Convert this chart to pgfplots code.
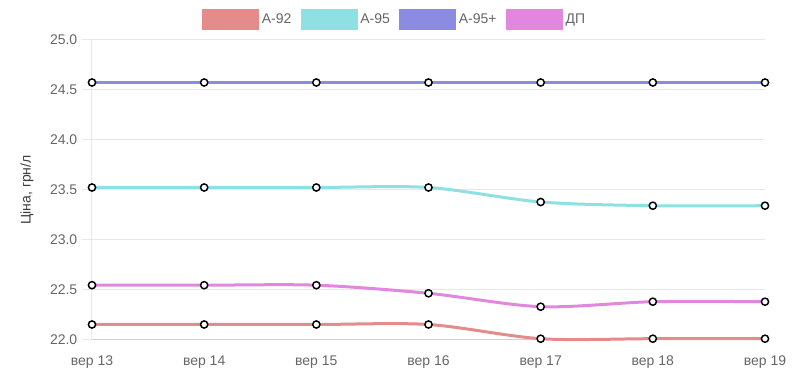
\documentclass[border=0pt]{standalone}
\usepackage{pgfplots}
\pgfplotsset{compat=1.18}
\usepackage{fontspec}
\setmainfont{Liberation Sans}
\definecolor{c92}{RGB}{228,139,139}
\definecolor{c95}{RGB}{143,224,227}
\definecolor{c95p}{RGB}{139,139,225}
\definecolor{cdp}{RGB}{225,136,222}
\definecolor{gridc}{RGB}{232,232,232}
\definecolor{axc}{RGB}{208,208,208}
\definecolor{tickc}{RGB}{102,102,102}
\definecolor{labc}{RGB}{60,60,60}
\begin{document}
\begin{tikzpicture}
\path[use as bounding box] (-69pt,-36pt) rectangle (534.75pt,255pt);
\begin{axis}[
  at={(0pt,0pt)}, anchor=south west,
  scale only axis, width=504.75pt, height=225pt,
  xmin=0, xmax=6, ymin=22, ymax=25,
  xtick={0,1,2,3,4,5,6},
  xticklabels={вер 13,вер 14,вер 15,вер 16,вер 17,вер 18,вер 19},
  ytick={22,22.5,23,23.5,24,24.5,25},
  axis x line*=bottom, axis y line*=left,
  x axis line style={draw=axc, line width=0.75pt, -},
  y axis line style={draw=gridc, line width=0.75pt, -},
  ymajorgrids, grid style={draw=gridc, line width=0.75pt},
  tick align=outside,
  xtick style={draw=none},
  ytick style={draw=gridc, line width=0.75pt},
  major tick length=7.5pt,
  tick label style={font=\fontsize{10.5}{12}\selectfont, text=tickc},
  xticklabel style={yshift=-1pt},
  yticklabel style={xshift=0pt},
  /pgf/number format/.cd, fixed, fixed zerofill, precision=1, assume math mode=true,
  /pgfplots/.cd,
  ylabel={Ціна, грн/л},
  every axis y label/.style={at={(axis description cs:-0.0966,0.5)}, rotate=90, anchor=center, font=\fontsize{10.5}{12}\selectfont, text=labc},
  clip=false,
  legend columns=4,
  legend style={at={(0.4502,1.0667)}, anchor=center, draw=none, fill=none,
    font=\fontsize{10.5}{12}\selectfont, text=tickc,
    /tikz/every even column/.append style={column sep=5pt}},
  legend image code/.code={\path[fill] (0pt,-6.75pt) rectangle (40.5pt,6.75pt);},
  every axis plot/.append style={line width=2.25pt, smooth, tension=0.5, mark=*, mark size=2.7pt,
    mark options={fill=white, draw=black, line width=1.1pt, solid}},
]
\addplot[color=c92] coordinates {(0,22.155) (1,22.155) (2,22.155) (3,22.155) (4,22.013) (5,22.013) (6,22.013)};
\addlegendentry{А-92}
\addplot[color=c95] coordinates {(0,23.525) (1,23.525) (2,23.525) (3,23.525) (4,23.38) (5,23.343) (6,23.343)};
\addlegendentry{А-95}
\addplot[color=c95p] coordinates {(0,24.575) (1,24.575) (2,24.575) (3,24.575) (4,24.575) (5,24.575) (6,24.575)};
\addlegendentry{А-95+}
\addplot[color=cdp] coordinates {(0,22.548) (1,22.548) (2,22.548) (3,22.467) (4,22.333) (5,22.383) (6,22.383)};
\addlegendentry{ДП}
\end{axis}
\end{tikzpicture}
\end{document}
